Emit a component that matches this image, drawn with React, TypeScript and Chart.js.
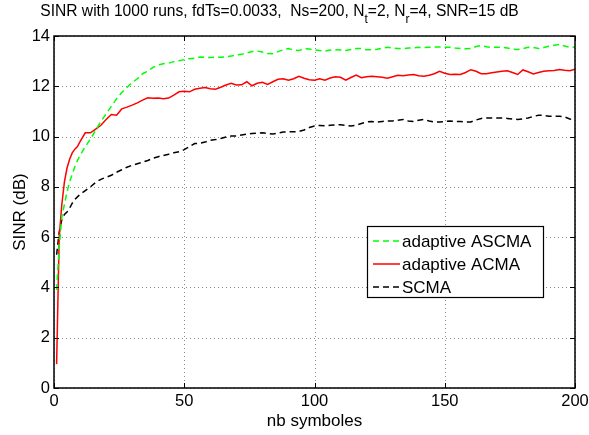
import { useEffect, useRef } from "react";
import { Chart, registerables } from "chart.js";

Chart.register(...registerables);

// ---- data ----
const symbols = [
  1, 2, 3, 4, 5, 6, 7, 8, 9, 10,
  12, 14, 16, 18, 20, 22, 24, 26, 28, 30,
  32, 34, 36, 38, 40, 42, 44, 46, 48, 50,
  52, 54, 56, 58, 60, 62, 64, 66, 68, 70,
  72, 74, 76, 78, 80, 82, 84, 86, 88, 90,
  92, 94, 96, 98, 100, 102, 104, 106, 108, 110,
  112, 114, 116, 118, 120, 122, 124, 126, 128, 130,
  132, 134, 136, 138, 140, 142, 144, 146, 148, 150,
  152, 154, 156, 158, 160, 162, 164, 166, 168, 170,
  172, 174, 176, 178, 180, 182, 184, 186, 188, 190,
  192, 194, 196, 198, 200,
];

const ascma = [
  3.9, 5.6, 6.8, 7.3, 7.8, 8.2, 8.5, 8.8, 9.05, 9.25,
  9.6, 9.9, 10.25, 10.6, 10.9, 11.2, 11.5, 11.75, 11.95, 12.15,
  12.3, 12.5, 12.6, 12.75, 12.85, 12.9, 12.92, 12.98, 13.02, 13.06,
  13.1, 13.12, 13.16, 13.15, 13.14, 13.16, 13.15, 13.17, 13.2, 13.25,
  13.27, 13.32, 13.38, 13.4, 13.36, 13.3, 13.29, 13.38, 13.45, 13.5,
  13.44, 13.42, 13.5, 13.48, 13.45, 13.42, 13.4, 13.44, 13.45, 13.44,
  13.42, 13.46, 13.5, 13.5, 13.45, 13.45, 13.47, 13.52, 13.55, 13.52,
  13.5, 13.5, 13.52, 13.53, 13.55, 13.54, 13.55, 13.56, 13.56, 13.55,
  13.55, 13.52, 13.5, 13.49, 13.5, 13.58, 13.62, 13.57, 13.55, 13.55,
  13.55, 13.52, 13.48, 13.46, 13.5, 13.55, 13.54, 13.5, 13.54, 13.59,
  13.63, 13.66, 13.6, 13.55, 13.56,
];

const acma = [
  0.95, 6.0, 7.3, 8.2, 8.75, 9.1, 9.35, 9.5, 9.6, 9.8,
  10.15, 10.15, 10.3, 10.45, 10.68, 10.88, 10.85, 11.1, 11.17, 11.25,
  11.34, 11.45, 11.54, 11.52, 11.53, 11.5, 11.53, 11.65, 11.78, 11.8,
  11.78, 11.88, 11.92, 11.95, 11.9, 11.88, 11.96, 12.05, 12.12, 12.05,
  12.06, 12.18, 12.02, 12.12, 12.16, 12.07, 12.18, 12.28, 12.3, 12.24,
  12.3, 12.4, 12.32, 12.26, 12.24, 12.3, 12.24, 12.33, 12.38, 12.36,
  12.24, 12.35, 12.45, 12.34, 12.38, 12.4, 12.38, 12.36, 12.32, 12.38,
  12.44, 12.42, 12.45, 12.47, 12.42, 12.4, 12.44, 12.5, 12.6, 12.52,
  12.47, 12.48, 12.47, 12.55, 12.66, 12.6, 12.5, 12.5, 12.54, 12.57,
  12.6, 12.62, 12.55, 12.47, 12.65, 12.58, 12.49, 12.55, 12.6, 12.62,
  12.63, 12.67, 12.64, 12.62, 12.68,
];

const scma = [
  5.3, 6.2, 6.7, 6.9, 7.0, 7.15, 7.35, 7.5, 7.6, 7.7,
  7.85, 8.0, 8.18, 8.3, 8.38, 8.46, 8.58, 8.68, 8.78, 8.86,
  8.92, 8.98, 9.05, 9.14, 9.2, 9.25, 9.3, 9.36, 9.4, 9.48,
  9.6, 9.72, 9.73, 9.78, 9.85, 9.88, 9.92, 9.98, 10.02, 10.02,
  10.06, 10.1, 10.12, 10.14, 10.15, 10.12, 10.1, 10.14, 10.18, 10.19,
  10.19, 10.2, 10.26, 10.36, 10.42, 10.44, 10.43, 10.45, 10.46, 10.47,
  10.45, 10.42, 10.45, 10.52, 10.58, 10.6, 10.58, 10.6, 10.62, 10.62,
  10.65, 10.68, 10.62, 10.6, 10.65, 10.68, 10.62, 10.58, 10.58, 10.6,
  10.62, 10.6, 10.6, 10.58, 10.58, 10.66, 10.72, 10.74, 10.74, 10.74,
  10.74, 10.72, 10.7, 10.68, 10.7, 10.74, 10.8, 10.85, 10.84, 10.81,
  10.81, 10.81, 10.78, 10.7, 10.66,
];

const seriesLabels = ["adaptive ASCMA", "adaptive ACMA", "SCMA"];
const seriesColors = ["#00ff00", "#ff0000", "#000000"];
const seriesDashed = [true, false, true];

const xTicks = [0, 50, 100, 150, 200];
const yTicks = [0, 2, 4, 6, 8, 10, 12, 14];

const titleParts = [
  { text: "SINR with 1000 runs, fdTs=0.0033,  Ns=200, N", sub: false },
  { text: "t", sub: true },
  { text: "=2, N", sub: false },
  { text: "r", sub: true },
  { text: "=4, SNR=15 dB", sub: false },
];
const xLabel = "nb symboles";
const yLabel = "SINR (dB)";

// ---- styling ----
const FONT = '"Liberation Sans", Arial, Helvetica, sans-serif';
const W = 589;
const H = 435;
const DASH = [6, 4];

const matlabPlugin = {
  id: "matlabAxes",
  beforeDatasetsDraw(chart: any) {
    const { ctx, chartArea: a, scales } = chart;
    ctx.save();
    ctx.strokeStyle = "#8c8c8c";
    ctx.lineWidth = 1;
    ctx.setLineDash([1, 3]);
    for (const v of yTicks) {
      const y = Math.round(scales.y.getPixelForValue(v)) + 0.5;
      ctx.beginPath();
      ctx.moveTo(a.left, y);
      ctx.lineTo(a.right, y);
      ctx.stroke();
    }
    for (const v of xTicks) {
      const x = Math.round(scales.x.getPixelForValue(v)) + 0.5;
      ctx.beginPath();
      ctx.moveTo(x, a.top);
      ctx.lineTo(x, a.bottom);
      ctx.stroke();
    }
    ctx.restore();
  },
  afterDatasetsDraw(chart: any) {
    const { ctx, chartArea: a, scales } = chart;
    ctx.save();
    ctx.setLineDash([]);
    ctx.strokeStyle = "#000";
    ctx.lineWidth = 1.5;
    ctx.strokeRect(a.left, a.top, a.right - a.left, a.bottom - a.top);
    ctx.lineWidth = 1;
    const tl = 5;
    ctx.beginPath();
    for (const v of xTicks) {
      const x = Math.round(scales.x.getPixelForValue(v)) + 0.5;
      ctx.moveTo(x, a.bottom);
      ctx.lineTo(x, a.bottom - tl);
      ctx.moveTo(x, a.top);
      ctx.lineTo(x, a.top + tl);
    }
    for (const v of yTicks) {
      const y = Math.round(scales.y.getPixelForValue(v)) + 0.5;
      ctx.moveTo(a.left, y);
      ctx.lineTo(a.left + tl, y);
      ctx.moveTo(a.right, y);
      ctx.lineTo(a.right - tl, y);
    }
    ctx.stroke();

    // legend box
    const lx = 367;
    const ly = 226;
    const lw = 176;
    const lh = 71;
    ctx.fillStyle = "#fff";
    ctx.fillRect(lx, ly, lw, lh);
    ctx.strokeStyle = "#000";
    ctx.lineWidth = 1.2;
    ctx.strokeRect(lx + 0.5, ly + 0.5, lw, lh);
    const rowH = 23;
    ctx.font = `17px ${FONT}`;
    ctx.textBaseline = "middle";
    ctx.textAlign = "left";
    seriesLabels.forEach((lab, i) => {
      const cy = ly + 15 + i * rowH;
      ctx.strokeStyle = seriesColors[i];
      ctx.lineWidth = 1.5;
      ctx.setLineDash(seriesDashed[i] ? DASH : []);
      ctx.beginPath();
      ctx.moveTo(lx + 6, cy);
      ctx.lineTo(lx + 33, cy);
      ctx.stroke();
      ctx.setLineDash([]);
      ctx.fillStyle = "#000";
      ctx.fillText(lab, lx + 35, cy + 1);
    });
    ctx.restore();
  },
  afterDraw(chart: any) {
    const { ctx } = chart;
    ctx.save();
    const mainFont = `15.6px ${FONT}`;
    const subFont = `12px ${FONT}`;
    let total = 0;
    for (const p of titleParts) {
      ctx.font = p.sub ? subFont : mainFont;
      total += ctx.measureText(p.text).width;
    }
    let x = 279.5 - total / 2;
    ctx.fillStyle = "#000";
    ctx.textBaseline = "alphabetic";
    ctx.textAlign = "left";
    for (const p of titleParts) {
      ctx.font = p.sub ? subFont : mainFont;
      ctx.fillText(p.text, x, p.sub ? 23 : 16);
      x += ctx.measureText(p.text).width;
    }
    ctx.restore();
  },
};

export default function App() {
  const ref = useRef<HTMLCanvasElement | null>(null);

  useEffect(() => {
    if (!ref.current) return;
    const series = [ascma, acma, scma];
    const chart = new Chart(ref.current, {
      type: "line",
      data: {
        datasets: series.map((vals, i) => ({
          label: seriesLabels[i],
          data: symbols.map((s, j) => ({ x: s, y: vals[j] })),
          borderColor: seriesColors[i],
          backgroundColor: seriesColors[i],
          borderWidth: 1.5,
          borderDash: seriesDashed[i] ? DASH : [],
          pointRadius: 0,
          tension: 0,
          fill: false,
        })),
      },
      options: {
        animation: false,
        responsive: false,
        devicePixelRatio: 1,
        events: [],
        layout: { padding: { top: 36, right: 14, left: 0, bottom: 0 } },
        plugins: {
          legend: { display: false },
          title: { display: false },
          tooltip: { enabled: false },
        },
        scales: {
          x: {
            type: "linear",
            min: 0,
            max: 200,
            afterFit: (s: any) => {
              s.height = 47;
              s.paddingLeft = 0;
              s.paddingRight = 0;
            },
            afterBuildTicks: (s: any) => {
              s.ticks = xTicks.map((v) => ({ value: v }));
            },
            ticks: {
              color: "#000",
              font: { family: FONT, size: 16.5 },
              padding: 4,
              maxRotation: 0,
              autoSkip: false,
            },
            grid: { display: false, drawTicks: false },
            border: { display: false },
            title: {
              display: true,
              text: xLabel,
              color: "#000",
              font: { family: FONT, size: 17 },
              padding: { top: 0, bottom: 3 },
            },
          },
          y: {
            type: "linear",
            min: 0,
            max: 14,
            afterFit: (s: any) => {
              s.width = 54;
              s.paddingTop = 0;
              s.paddingBottom = 0;
            },
            afterBuildTicks: (s: any) => {
              s.ticks = yTicks.map((v) => ({ value: v }));
            },
            ticks: {
              color: "#000",
              font: { family: FONT, size: 16.5 },
              padding: 4,
            },
            grid: { display: false, drawTicks: false },
            border: { display: false },
            title: {
              display: true,
              text: yLabel,
              color: "#000",
              font: { family: FONT, size: 17 },
              padding: { top: 10, bottom: 0 },
            },
          },
        },
      },
      plugins: [matlabPlugin],
    });
    return () => chart.destroy();
  }, []);

  return (
    <div style={{ position: "absolute", left: 0, top: 0, width: W, height: H, background: "#fff" }}>
      <canvas ref={ref} width={W} height={H} style={{ display: "block", width: W, height: H }} />
    </div>
  );
}
